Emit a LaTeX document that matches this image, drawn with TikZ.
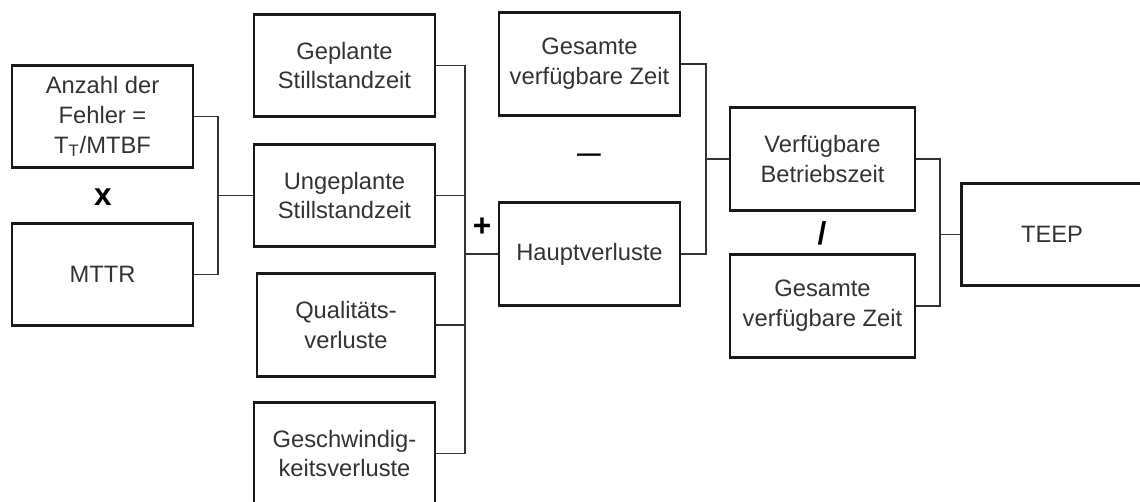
\documentclass[tikz,border=0pt]{standalone}
\usepackage{fontspec}
\setmainfont{Liberation Sans}
\tikzset{
  box/.style={draw=black!90, line width=1.5pt, minimum width=3.62cm, minimum height=2.05cm,
    inner sep=0pt, align=center, text=black!80, font=\fontsize{13.5}{17}\selectfont},
  op/.style={inner sep=0pt, font=\fontsize{18}{20}\selectfont\bfseries},
  link/.style={draw=black!80, line width=0.7pt}
}
\begin{document}
\begin{tikzpicture}[x=0.02cm, y=-0.02cm]
      \useasboundingbox (0,0) rectangle (1140,501);
      \draw
        (102.5,116.5) node[box] (fehler){Anzahl der\\Fehler =\\T\textsubscript{T}/MTBF}
        (102.5,274.5) node[box] (mttr){MTTR}
        (344.5,65.5) node[box] (geplant){Geplante\\Stillstandzeit}
        (344.5,195.5) node[box] (ungeplant){Ungeplante\\Stillstandzeit}
        (346,325) node[box, minimum width=3.56cm] (qualitaet){Qualitäts-\\verluste}
        (344.5,453.5) node[box] (tempo){Geschwindig-\\keitsverluste}
        (589.5,64) node[box] (gesamtA){Gesamte\\verfügbare Zeit}
        (589.5,254) node[box] (haupt){Hauptverluste}
        (822.5,159) node[box, minimum width=3.7cm] (betrieb){Verfügbare\\Betriebszeit}
        (822.5,306) node[box, minimum width=3.7cm] (gesamtB){Gesamte\\verfügbare Zeit}
        (1052,234.5) node[box] (teep){TEEP};
      \draw
        (103,197) node[op] (mal){x}
        (482,227) node[op] (plus){+}
        (589,158) node[op, font=\fontsize{13.5}{15}\selectfont\bfseries] (minus){—}
        (822,233) node[op] (durch){/};
      \coordinate (j1) at (218,195.5);
      \coordinate (j2) at (465,254);
      \coordinate (j3) at (706,159);
      \coordinate (j4) at (940,234.5);
      \begin{scope}[link]
        \draw (fehler) -| (j1);
        \draw (mttr) -| (j1);
        \draw (j1) to (ungeplant);
        \draw (geplant) -| (j2);
        \draw (ungeplant) -| (j2);
        \draw (qualitaet) -| (j2);
        \draw (tempo) -| (j2);
        \draw (j2) to (haupt);
        \draw (gesamtA) -| (j3);
        \draw (haupt) -| (j3);
        \draw (j3) to (betrieb);
        \draw (betrieb) -| (j4);
        \draw (gesamtB) -| (j4);
        \draw (j4) to (teep);
      \end{scope}
    \end{tikzpicture}
\end{document}
